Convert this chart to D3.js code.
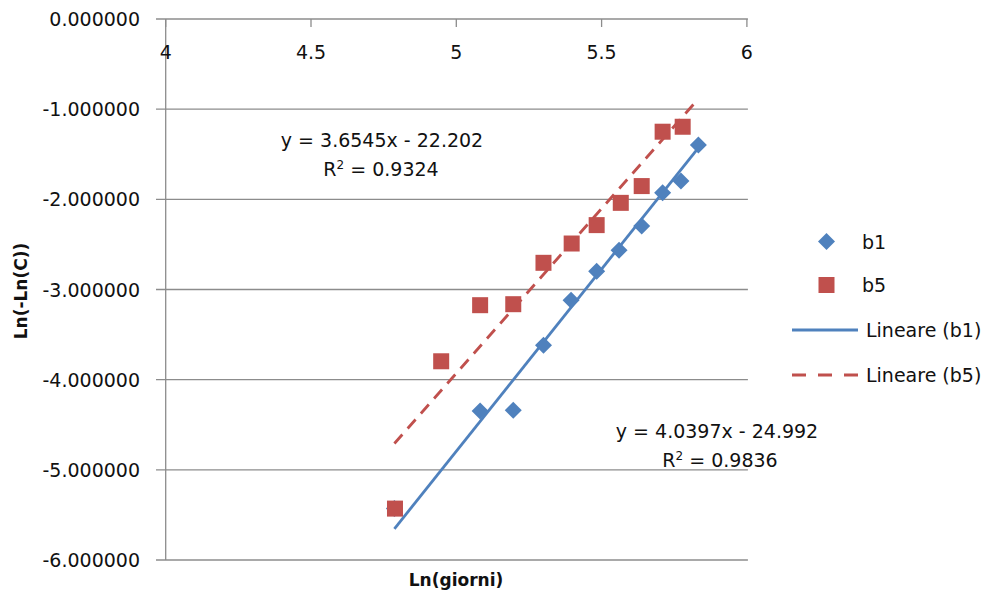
<!DOCTYPE html>
<html><head><meta charset="utf-8">
<script src="https://cdn.jsdelivr.net/npm/d3@7"></script>
<style>body{margin:0;background:#fff}svg{display:block}text{font-family:"DejaVu Sans",sans-serif;fill:#111}</style>
</head><body>
<svg id="c" width="987" height="597"></svg>
<script>
// Data
const b1X = [4.787, 5.082, 5.196, 5.300, 5.395, 5.483, 5.560, 5.638, 5.710, 5.773, 5.833];
const b1Y = [-5.43, -4.347, -4.339, -3.618, -3.119, -2.797, -2.564, -2.297, -1.928, -1.798, -1.398];
const b5X = [4.789, 4.948, 5.082, 5.196, 5.300, 5.397, 5.483, 5.566, 5.638, 5.710, 5.779];
const b5Y = [-5.43, -3.796, -3.174, -3.163, -2.704, -2.490, -2.286, -2.039, -1.853, -1.250, -1.195];
const trendSlopes = [4.0397, 3.6545];
const trendIntercepts = [-24.992, -22.202];
const trendXRange = [[4.787, 5.833], [4.787, 5.825]];
const eqLabels = ["y = 4.0397x - 24.992", "y = 3.6545x - 22.202"];
const r2Labels = ["0.9836", "0.9324"];
const xTicks = [4, 4.5, 5, 5.5, 6];
const yTicks = [0, -1, -2, -3, -4, -5, -6];
const legendLabels = ["b1", "b5", "Lineare (b1)", "Lineare (b5)"];

const BLUE = "#4F81BD", RED = "#C0504D", GRID = "#8c8c8c";
const svg = d3.select("#c");
const x = d3.scaleLinear().domain([4, 6]).range([165.7, 746.9]);
const y = d3.scaleLinear().domain([0, -6]).range([19, 560]);
const fmtY = d => d3.format(".6f")(d).replace("\u2212", "-");

// gridlines (horizontal) incl. left tick extension
svg.append("g").selectAll("line").data(yTicks).join("line")
  .attr("x1", 156).attr("x2", x(6) + 1)
  .attr("y1", d => y(d)).attr("y2", d => y(d))
  .attr("stroke", GRID).attr("stroke-width", 1.3);

// y axis line
svg.append("line").attr("x1", x(4)).attr("x2", x(4)).attr("y1", y(0)).attr("y2", y(-6))
  .attr("stroke", GRID).attr("stroke-width", 1.3);

// x ticks (pointing down from the top axis at y=0)
svg.append("g").selectAll("line").data(xTicks).join("line")
  .attr("x1", d => x(d)).attr("x2", d => x(d)).attr("y1", y(0)).attr("y2", y(0) + 8)
  .attr("stroke", GRID).attr("stroke-width", 1.3);

svg.append("g").selectAll("text").data(xTicks).join("text")
  .attr("x", d => x(d)).attr("y", 59).attr("text-anchor", "middle")
  .style("font-size", "19px").text(d => d3.format("")(d));

svg.append("g").selectAll("text").data(yTicks).join("text")
  .attr("x", 140).attr("y", d => y(d) + 7).attr("text-anchor", "end")
  .style("font-size", "19px").text(fmtY);

// axis titles
svg.append("text").attr("x", 456).attr("y", 586).attr("text-anchor", "middle")
  .style("font-size", "17px").style("font-weight", "bold").text("Ln(giorni)");
svg.append("text").attr("transform", "translate(27,291) rotate(-90)").attr("text-anchor", "middle")
  .style("font-size", "17px").style("font-weight", "bold").text("Ln(-Ln(C))");

// trendlines
const line = d3.line().x(d => x(d[0])).y(d => y(d[1]));
[0, 1].forEach(i => {
  const pts = trendXRange[i].map(v => [v, trendSlopes[i] * v + trendIntercepts[i]]);
  svg.append("path").attr("d", line(pts)).attr("fill", "none")
    .attr("stroke", i === 0 ? BLUE : RED).attr("stroke-width", 2.8)
    .attr("stroke-dasharray", i === 0 ? null : "12,8");
});

// markers
const b1 = b1X.map((v, i) => [v, b1Y[i]]);
const b5 = b5X.map((v, i) => [v, b5Y[i]]);
function drawDiamond(g, cx, cy, r) {
  g.append("path").attr("d", `M${cx},${cy - r}L${cx + r},${cy}L${cx},${cy + r}L${cx - r},${cy}Z`).attr("fill", BLUE);
}
const gm = svg.append("g");
b1.forEach(d => drawDiamond(gm, x(d[0]), y(d[1]), 8.5));
gm.selectAll("rect.b5").data(b5).join("rect").attr("class", "b5")
  .attr("x", d => x(d[0]) - 8).attr("y", d => y(d[1]) - 8)
  .attr("width", 16).attr("height", 16).attr("fill", RED);

// equation labels
svg.append("text").attr("x", 717).attr("y", 438).attr("text-anchor", "middle").style("font-size", "19px").text(eqLabels[0]);
const r1 = svg.append("text").attr("x", 720).attr("y", 467).attr("text-anchor", "middle").style("font-size", "19px");
r1.append("tspan").text("R");
r1.append("tspan").attr("dy", -7).style("font-size", "12px").text("2");
r1.append("tspan").attr("dy", 7).text(" = " + r2Labels[0]);

svg.append("text").attr("x", 382).attr("y", 147).attr("text-anchor", "middle").style("font-size", "19px").text(eqLabels[1]);
const r2 = svg.append("text").attr("x", 381).attr("y", 176).attr("text-anchor", "middle").style("font-size", "19px");
r2.append("tspan").text("R");
r2.append("tspan").attr("dy", -7).style("font-size", "12px").text("2");
r2.append("tspan").attr("dy", 7).text(" = " + r2Labels[1]);

// legend
const lg = svg.append("g");
drawDiamond(lg, 826.5, 241.5, 8.5);
lg.append("rect").attr("x", 818.5).attr("y", 277).attr("width", 16).attr("height", 16).attr("fill", RED);
lg.append("line").attr("x1", 792).attr("x2", 858).attr("y1", 330).attr("y2", 330).attr("stroke", BLUE).attr("stroke-width", 2.8);
lg.append("line").attr("x1", 792).attr("x2", 858).attr("y1", 375).attr("y2", 375).attr("stroke", RED).attr("stroke-width", 2.8).attr("stroke-dasharray", "14,12");
const ly = [241.5, 285, 330, 375], lx = [862, 862, 866, 866];
legendLabels.forEach((t, i) => {
  lg.append("text").attr("x", lx[i]).attr("y", ly[i] + 7).style("font-size", "19px").text(t);
});
</script>
</body></html>
